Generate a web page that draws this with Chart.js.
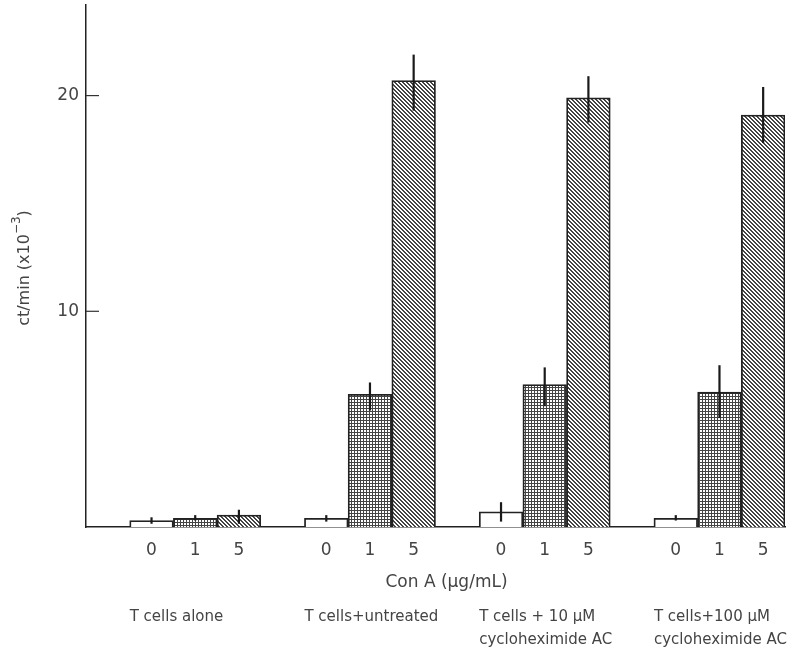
<!DOCTYPE html>
<html>
<head>
<meta charset="utf-8">
<script src="https://cdn.jsdelivr.net/npm/chart.js@4"></script>
<style>
  html, body { margin: 0; padding: 0; background: #fff; }
  #wrap { width: 796px; height: 654px; }
</style>
</head>
<body>
<div id="wrap"><canvas id="chart" width="796" height="654"></canvas></div>
<script>
// groups and doses
const groups = [
  ['T cells alone'],
  ['T cells+untreated'],
  ['T cells + 10 μM', 'cycloheximide AC'],
  ['T cells+100 μM', 'cycloheximide AC']
];
const doses = ['0', '1', '5'];

// ct/min x10^-3, one array per Con A dose, one value per group
const dose0 = [0.3, 0.4, 0.7, 0.4];
const dose1 = [0.4, 6.15, 6.6, 6.25];
const dose5 = [0.55, 20.7, 19.9, 19.1];

// error bar ends
const low0 = [0.15, 0.25, 0.25, 0.3];
const high0 = [0.45, 0.55, 1.15, 0.55];
const low1 = [0.3, 5.4, 5.6, 5.05];
const high1 = [0.55, 6.7, 7.4, 7.5];
const low5 = [0.15, 19.3, 18.75, 17.8];
const high5 = [0.8, 21.9, 20.9, 20.4];

const yTicks = [10, 20];

const values = [dose0, dose1, dose5];
const lows = [low0, low1, low5];
const highs = [high0, high1, high5];

const textColor = '#444';
const fontFamily = '"DejaVu Sans", "Open Sans", sans-serif';

// each group takes 4 slots: one empty gap then the 3 doses
const labels = [];
groups.forEach(() => {
  labels.push('');
  doses.forEach(d => labels.push(d));
});
const slotOf = (g, d) => g * 4 + 1 + d;

// fill patterns
function makePattern(kind) {
  const c = document.createElement('canvas');
  const n = kind === 'dots' ? 3 : 4;
  c.width = n; c.height = n;
  const p = c.getContext('2d');
  p.fillStyle = '#fff';
  p.fillRect(0, 0, n, n);
  p.fillStyle = '#444';
  if (kind === 'dots') {
    p.fillRect(0, 0, n, 1);
    p.fillRect(0, 0, 1, n);
  } else {
    for (let i = 0; i < n; i++) {
      p.fillRect(i, i, 1, 1);
      p.fillRect((i + 1) % n, i, 1, 1);
    }
  }
  return p.createPattern(c, 'repeat');
}

const fills = ['#ffffff', makePattern('dots'), makePattern('hatch')];

const datasets = doses.map((dose, d) => {
  const data = labels.map(() => null);
  values[d].forEach((v, g) => { data[slotOf(g, d)] = v; });
  return {
    label: dose,
    data: data,
    backgroundColor: fills[d],
    borderColor: '#222',
    borderWidth: 1.8,
    grouped: false,
    barPercentage: 1,
    categoryPercentage: 1
  };
});

// error bars, inward y ticks and extra labels
const extras = {
  id: 'extras',
  afterDatasetsDraw(chart) {
    const ctx = chart.ctx;
    const xs = chart.scales.x, ys = chart.scales.y;
    ctx.save();
    ctx.strokeStyle = '#1a1a1a';
    ctx.lineWidth = 2.2;
    doses.forEach((dose, d) => {
      groups.forEach((grp, g) => {
        const x = xs.getPixelForValue(slotOf(g, d));
        ctx.beginPath();
        ctx.moveTo(x, ys.getPixelForValue(highs[d][g]));
        ctx.lineTo(x, ys.getPixelForValue(lows[d][g]));
        ctx.stroke();
      });
    });
    ctx.restore();
  },
  afterDraw(chart) {
    const ctx = chart.ctx;
    const xs = chart.scales.x, ys = chart.scales.y;
    const area = chart.chartArea;
    ctx.save();

    // ticks pointing into the plot
    ctx.strokeStyle = '#333';
    ctx.lineWidth = 1.2;
    yTicks.forEach(t => {
      const y = ys.getPixelForValue(t);
      ctx.beginPath();
      ctx.moveTo(area.left, y);
      ctx.lineTo(area.left + 13, y);
      ctx.stroke();
    });

    ctx.fillStyle = textColor;

    // y title with superscript
    ctx.save();
    ctx.translate(25, 268);
    ctx.rotate(-Math.PI / 2);
    ctx.textBaseline = 'middle';
    const a = 'ct/min (x10', b = '−3', c = ')';
    ctx.font = '16px ' + fontFamily;
    const wa = ctx.measureText(a).width, wc = ctx.measureText(c).width;
    ctx.font = '12px ' + fontFamily;
    const wb = ctx.measureText(b).width;
    const x0 = -(wa + wb + wc) / 2;
    ctx.textAlign = 'left';
    ctx.font = '16px ' + fontFamily;
    ctx.fillText(a, x0, 0);
    ctx.font = '12px ' + fontFamily;
    ctx.fillText(b, x0 + wa, -8);
    ctx.font = '16px ' + fontFamily;
    ctx.fillText(c, x0 + wa + wb, 0);
    ctx.restore();

    // x title
    ctx.font = '17px ' + fontFamily;
    ctx.textAlign = 'center';
    ctx.textBaseline = 'middle';
    ctx.fillText('Con A (μg/mL)', (area.left + area.right) / 2 + 11, 583);

    // group names, left aligned with the first bar of each group
    const half = (xs.getPixelForValue(1) - xs.getPixelForValue(0)) / 2;
    ctx.textAlign = 'left';
    ctx.font = '15px ' + fontFamily;
    groups.forEach((lines, g) => {
      const x = xs.getPixelForValue(slotOf(g, 0)) - half;
      lines.forEach((line, i) => ctx.fillText(line, x, 617 + i * 23));
    });
    ctx.restore();
  }
};

new Chart(document.getElementById('chart'), {
  type: 'bar',
  data: { labels: labels, datasets: datasets },
  plugins: [extras],
  options: {
    responsive: false,
    animation: false,
    layout: { padding: { top: 5, right: 11, left: 0, bottom: 0 } },
    plugins: { legend: { display: false }, tooltip: { enabled: false } },
    scales: {
      x: {
        grid: { display: false, drawTicks: false },
        border: { display: true, color: '#222', width: 1.5 },
        ticks: {
          color: textColor,
          font: { family: fontFamily, size: 17 },
          padding: 13,
          maxRotation: 0,
          autoSkip: false
        },
        afterFit(scale) { scale.height = 127; }
      },
      y: {
        min: 0,
        max: 24.2,
        grid: { display: false, drawTicks: false },
        border: { display: true, color: '#222', width: 1.5 },
        ticks: {
          stepSize: 10,
          includeBounds: false,
          padding: 7,
          color: textColor,
          font: { family: fontFamily, size: 17 },
          callback: v => (yTicks.includes(v) ? String(v) : '')
        },
        afterFit(scale) {
          scale.width = 86;
          scale.paddingTop = 0;
          scale.paddingBottom = 0;
        }
      }
    }
  }
});
</script>
</body>
</html>
